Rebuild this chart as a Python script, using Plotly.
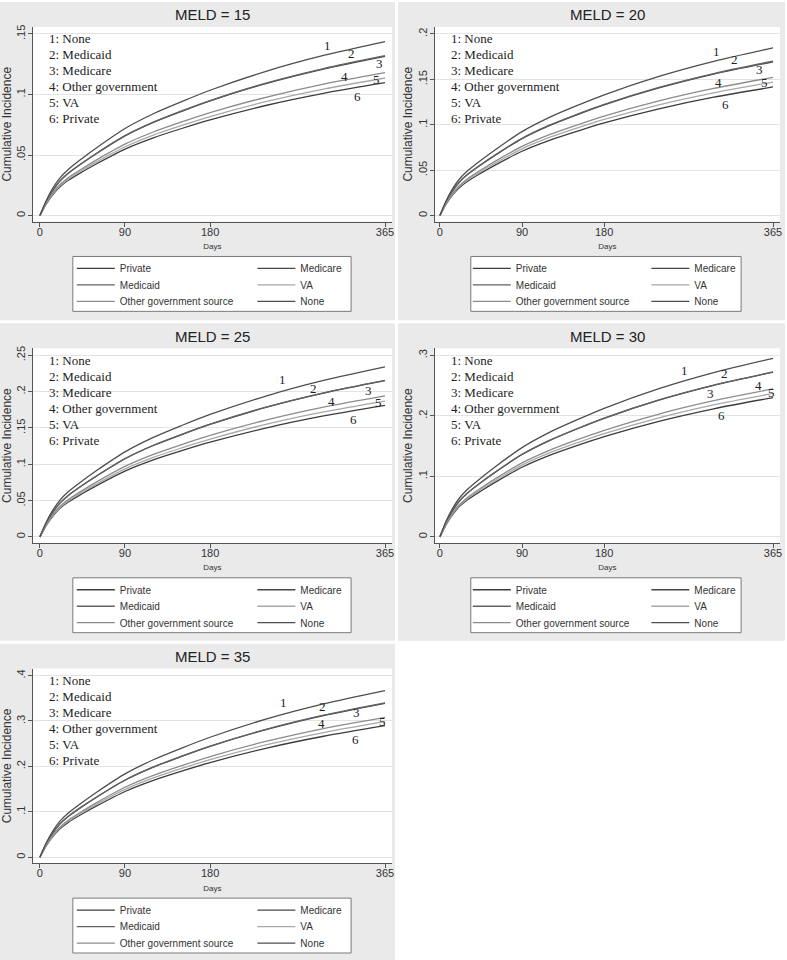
import plotly.graph_objects as go

W, H = 787, 960

# ---------------- data ----------------
days = [0, 7, 14, 21, 30, 45, 60, 90, 120, 150, 180, 240, 300, 365]
day_ticks = [0, 90, 180, 365]
day_ticklabels = ["0", "90", "180", "365"]

series_names = ["Private", "Medicare", "Medicaid", "VA", "Other government source", "None"]
note_lines = ["1: None", "2: Medicaid", "3: Medicare", "4: Other government", "5: VA", "6: Private"]
panel_titles = ["MELD = 15", "MELD = 20", "MELD = 25", "MELD = 30", "MELD = 35"]

# MELD = 15
m15_none     = [0, .0129, .0230, .0309, .0381, .0474, .0560, .0719, .0841, .0941, .1035, .1193, .1322, .1437]
m15_medicaid = [0, .0119, .0211, .0284, .0350, .0436, .0515, .0660, .0772, .0865, .0950, .1096, .1214, .1320]
m15_medicare = [0, .0118, .0210, .0283, .0349, .0434, .0513, .0658, .0769, .0861, .0947, .1092, .1210, .1315]
m15_othergov = [0, .0106, .0189, .0254, .0313, .0389, .0460, .0590, .0690, .0773, .0850, .0979, .1086, .1180]
m15_va       = [0, .0102, .0182, .0244, .0301, .0375, .0443, .0568, .0665, .0744, .0818, .0943, .1045, .1136]
m15_private  = [0, .0099, .0176, .0236, .0291, .0362, .0428, .0549, .0642, .0719, .0790, .0911, .1009, .1097]
m15_yticks = [0, .05, .1, .15]
m15_yticklabels = ["0", ".05", ".1", ".15"]

# MELD = 20
m20_none     = [0, .0166, .0296, .0397, .0490, .0610, .0720, .0924, .1081, .1210, .1330, .1533, .1699, .1847]
m20_medicaid = [0, .0153, .0272, .0366, .0451, .0561, .0663, .0850, .0995, .1114, .1224, .1411, .1564, .1700]
m20_medicare = [0, .0152, .0271, .0364, .0449, .0559, .0660, .0847, .0990, .1109, .1219, .1405, .1558, .1693]
m20_othergov = [0, .0137, .0244, .0327, .0403, .0502, .0594, .0761, .0890, .0997, .1096, .1263, .1400, .1522]
m20_va       = [0, .0132, .0235, .0316, .0390, .0485, .0573, .0735, .0860, .0963, .1058, .1220, .1352, .1470]
m20_private  = [0, .0127, .0227, .0304, .0375, .0467, .0552, .0708, .0828, .0927, .1020, .1175, .1303, .1416]
m20_yticks = [0, .05, .1, .15, .2]
m20_yticklabels = ["0", ".05", ".1", ".15", ".2"]

# MELD = 25
m25_none     = [0, .0211, .0374, .0503, .0620, .0772, .0913, .1170, .1369, .1533, .1685, .1942, .2153, .2340]
m25_medicaid = [0, .0194, .0345, .0463, .0571, .0711, .0840, .1078, .1261, .1412, .1552, .1789, .1983, .2155]
m25_medicare = [0, .0194, .0344, .0462, .0570, .0710, .0839, .1075, .1258, .1408, .1548, .1785, .1978, .2150]
m25_othergov = [0, .0175, .0310, .0417, .0514, .0640, .0757, .0970, .1135, .1271, .1397, .1610, .1785, .1940]
m25_va       = [0, .0168, .0299, .0402, .0496, .0617, .0729, .0935, .1094, .1225, .1346, .1552, .1720, .1870]
m25_private  = [0, .0163, .0290, .0389, .0480, .0597, .0706, .0905, .1059, .1186, .1303, .1502, .1665, .1810]
m25_yticks = [0, .05, .1, .15, .2, .25]
m25_yticklabels = ["0", ".05", ".1", ".15", ".2", ".25"]

# MELD = 30
m30_none     = [0, .0266, .0472, .0634, .0782, .0974, .1151, .1475, .1726, .1932, .2124, .2449, .2714, .2950]
m30_medicaid = [0, .0245, .0436, .0586, .0722, .0899, .1063, .1363, .1594, .1785, .1962, .2262, .2507, .2725]
m30_medicare = [0, .0245, .0435, .0585, .0721, .0898, .1061, .1360, .1591, .1782, .1958, .2258, .2502, .2720]
m30_othergov = [0, .0220, .0391, .0526, .0648, .0807, .0954, .1223, .1430, .1602, .1760, .2029, .2249, .2445]
m30_va       = [0, .0213, .0379, .0510, .0628, .0782, .0924, .1185, .1387, .1552, .1706, .1967, .2180, .2370]
m30_private  = [0, .0207, .0368, .0495, .0610, .0759, .0897, .1150, .1346, .1507, .1656, .1909, .2116, .2300]
m30_yticks = [0, .1, .2, .3]
m30_yticklabels = ["0", ".1", ".2", ".3"]

# MELD = 35
m35_none     = [0, .0330, .0587, .0789, .0973, .1211, .1431, .1835, .2147, .2404, .2642, .3046, .3376, .3670]
m35_medicaid = [0, .0306, .0544, .0731, .0901, .1122, .1326, .1700, .1989, .2227, .2448, .2822, .3128, .3400]
m35_medicare = [0, .0305, .0542, .0729, .0898, .1119, .1322, .1695, .1983, .2220, .2441, .2814, .3119, .3390]
m35_othergov = [0, .0277, .0493, .0662, .0816, .1016, .1201, .1540, .1802, .2017, .2218, .2556, .2834, .3080]
m35_va       = [0, .0269, .0478, .0642, .0791, .0985, .1164, .1493, .1746, .1955, .2149, .2478, .2746, .2985]
m35_private  = [0, .0261, .0463, .0623, .0767, .0956, .1129, .1448, .1694, .1897, .2085, .2404, .2664, .2896]
m35_yticks = [0, .1, .2, .3, .4]
m35_yticklabels = ["0", ".1", ".2", ".3", ".4"]

panel_series = [
    {"Private": m15_private, "Medicare": m15_medicare, "Medicaid": m15_medicaid,
     "VA": m15_va, "Other government source": m15_othergov, "None": m15_none},
    {"Private": m20_private, "Medicare": m20_medicare, "Medicaid": m20_medicaid,
     "VA": m20_va, "Other government source": m20_othergov, "None": m20_none},
    {"Private": m25_private, "Medicare": m25_medicare, "Medicaid": m25_medicaid,
     "VA": m25_va, "Other government source": m25_othergov, "None": m25_none},
    {"Private": m30_private, "Medicare": m30_medicare, "Medicaid": m30_medicaid,
     "VA": m30_va, "Other government source": m30_othergov, "None": m30_none},
    {"Private": m35_private, "Medicare": m35_medicare, "Medicaid": m35_medicaid,
     "VA": m35_va, "Other government source": m35_othergov, "None": m35_none},
]
panel_yticks = [m15_yticks, m20_yticks, m25_yticks, m30_yticks, m35_yticks]
panel_yticklabels = [m15_yticklabels, m20_yticklabels, m25_yticklabels, m30_yticklabels, m35_yticklabels]

# ---------------- style / layout ----------------
SANS = "Liberation Sans, Arial, sans-serif"
SERIF = "Liberation Serif, Times New Roman, serif"
colors = {"Private": "#3c3c3c", "Medicare": "#474747", "Medicaid": "#626262",
          "VA": "#a8a8a8", "Other government source": "#8c8c8c", "None": "#4e4e4e"}
legend_cell = {"Private": (0, 0), "Medicare": (0, 1), "Medicaid": (1, 0),
               "VA": (1, 1), "Other government source": (2, 0), "None": (2, 1)}

COLS = [
    dict(panel=(0, 396), plot=(33, 393), d0=40, d365=386, title_x=213, box=(73, 352), leg=(77, 258), note_x=47),
    dict(panel=(399, 787), plot=(436, 782), d0=441, d365=775, title_x=609, box=(472, 743), leg=(474, 653), note_x=450),
]
ROWS = [(0, 319), (322, 640), (643, 960)]
panel_pos = [(0, 0), (1, 0), (0, 1), (1, 1), (0, 2)]

# curve number label pixel positions
num_pos = [
    [(328, 44), (352, 52), (380, 62), (345, 75), (377, 78), (358, 95)],
    [(718, 50), (736, 58), (761, 68), (720, 81), (766, 81), (727, 103)],
    [(283, 378), (314, 387), (369, 389), (332, 400), (379, 401), (354, 418)],
    [(686, 369), (726, 372), (712, 392), (760, 384), (773, 391), (723, 414)],
    [(284, 702), (323, 706), (357, 712), (322, 723), (383, 721), (356, 739)],
]


def px(x):
    return x / W


def py(y):
    return 1 - y / H


fig = go.Figure()
shapes, annotations = [], []
layout = {}
leg_idx = 0

for i, (ci, ri) in enumerate(panel_pos):
    c = COLS[ci]
    rt, rb = ROWS[ri]
    n = "" if i == 0 else str(i + 1)
    yt = panel_yticks[i]
    ymax = yt[-1]

    # geometry
    pl, pr = c["plot"]
    ptop, pbot = rt + 25, rt + 220
    y0px, ytpx = rt + 214, rt + 32
    k = (c["d365"] - c["d0"]) / 365.0
    m = (y0px - ytpx) / ymax
    xr = [-(c["d0"] - pl) / k, 365 + (pr - c["d365"]) / k]
    yr = [-(pbot - y0px) / m, ymax + (ytpx - ptop) / m]

    # backgrounds
    shapes.append(dict(type="rect", xref="paper", yref="paper", layer="below",
                       x0=px(c["panel"][0]), x1=px(c["panel"][1]), y0=py(rb), y1=py(rt),
                       fillcolor="#eaeaea", line=dict(width=0)))
    shapes.append(dict(type="rect", xref="paper", yref="paper", layer="below",
                       x0=px(pl), x1=px(pr), y0=py(pbot), y1=py(ptop),
                       fillcolor="white", line=dict(width=0)))
    bx0, bx1 = c["box"]
    shapes.append(dict(type="rect", xref="paper", yref="paper", layer="below",
                       x0=px(bx0), x1=px(bx1), y0=py(rt + 310), y1=py(rt + 255),
                       fillcolor="white", line=dict(width=1, color="#7a7a7a")))

    layout["xaxis" + n] = dict(
        domain=[px(pl), px(pr)], anchor="y" + n, range=xr,
        tickvals=day_ticks, ticktext=day_ticklabels,
        showline=True, linecolor="#555555", linewidth=1,
        ticks="outside", ticklen=4, tickcolor="#555555", ticklabelstandoff=-4,
        tickfont=dict(size=11, family=SANS, color="#333"),
        title=dict(text="Days", font=dict(size=8, family=SANS, color="#333"), standoff=6),
        showgrid=False, zeroline=False, fixedrange=True)
    layout["yaxis" + n] = dict(
        domain=[py(pbot), py(ptop)], anchor="x" + n, range=yr,
        tickvals=yt, ticktext=panel_yticklabels[i], tickangle=-90,
        showline=True, linecolor="#555555", linewidth=1,
        ticks="outside", ticklen=4, tickcolor="#555555", ticklabelstandoff=-1,
        tickfont=dict(size=11, family=SANS, color="#333"),
        title=dict(text="Cumulative Incidence", font=dict(size=12, family=SANS, color="#333"), standoff=1),
        showgrid=True, gridcolor="#e3e3e3", gridwidth=1, zeroline=False, fixedrange=True)

    # traces
    for name in series_names:
        leg_idx += 1
        lk = "legend" if leg_idx == 1 else "legend%d" % leg_idx
        fig.add_trace(go.Scatter(
            x=days, y=panel_series[i][name], mode="lines", name=name,
            line=dict(color=colors[name], width=1.3, shape="spline", smoothing=0.8),
            xaxis="x" + n, yaxis="y" + n, legend=lk, showlegend=True, hoverinfo="skip"))
        r, cc = legend_cell[name]
        ly = rt + [267, 283.5, 300][r]
        layout[lk] = dict(x=px(c["leg"][cc] - 5), xanchor="left", y=py(ly), yanchor="middle",
                          bgcolor="rgba(0,0,0,0)", borderwidth=0, itemwidth=38,
                          font=dict(size=10, family=SANS, color="#333"))

    # title
    annotations.append(dict(text=panel_titles[i], xref="paper", yref="paper",
                            x=px(c["title_x"]), y=py(rt + 13), xanchor="center", yanchor="middle",
                            showarrow=False, font=dict(size=15, family=SANS, color="#222")))
    # key notes
    for j, t in enumerate(note_lines):
        annotations.append(dict(text=t, xref="paper", yref="paper",
                                x=px(c["note_x"]), y=py(rt + 37 + 16 * j), xanchor="left", yanchor="middle",
                                showarrow=False, font=dict(size=13, family=SERIF, color="#222")))
    # curve numbers
    for j, (nx, ny) in enumerate(num_pos[i]):
        annotations.append(dict(text=str(j + 1), xref="paper", yref="paper",
                                x=px(nx), y=py(ny), xanchor="center", yanchor="middle",
                                showarrow=False, font=dict(size=13, family=SERIF, color="#222")))

fig.update_layout(width=W, height=H, margin=dict(l=0, r=0, t=0, b=0),
                  paper_bgcolor="white", plot_bgcolor="white",
                  shapes=shapes, annotations=annotations, **layout)
fig.write_html("out.html", config={"displayModeBar": False},
               post_script="document.body.style.margin='0';document.body.style.padding='0';"
                           "document.documentElement.style.overflow='hidden';")
